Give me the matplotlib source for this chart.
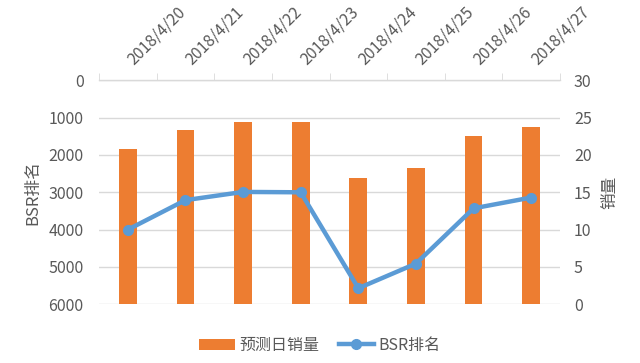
import matplotlib
matplotlib.use("Agg")
import matplotlib.pyplot as plt
import matplotlib.transforms as mtransforms
import numpy as np

plt.rcParams['font.family'] = ['Noto Sans CJK SC', 'DejaVu Sans']

dates = ["2018/4/20", "2018/4/21", "2018/4/22", "2018/4/23",
         "2018/4/24", "2018/4/25", "2018/4/26", "2018/4/27"]
sales = [20.8, 23.4, 24.4, 24.4, 16.9, 18.3, 22.6, 23.7]
bsr = [4000, 3210, 2990, 3000, 5570, 4910, 3430, 3140]

bar_color = "#ED7D31"
line_color = "#5B9BD5"
text_color = "#595959"
grid_color = "#D9D9D9"

fig = plt.figure(figsize=(6.4, 3.63), dpi=100)
ax = fig.add_axes([0.1547, 0.1617, 0.7203, 0.6171])
ax2 = ax.twinx()

x = np.arange(len(dates))

# bars on the right (sales) axis
ax2.bar(x, sales, width=0.31, color=bar_color, zorder=2, label="预测日销量")
ax2.set_ylim(0, 30)
ax2.set_yticks(np.arange(0, 31, 5))
ax2.grid(axis='y', color=grid_color, linewidth=1)
ax2.set_axisbelow(True)

# line on left (BSR) axis, inverted
ax.plot(x, bsr, color=line_color, linewidth=3.2, marker='o', markersize=7,
        zorder=3, label="BSR排名")
ax.set_ylim(6000, 0)
ax.set_yticks(np.arange(0, 6001, 1000))
ax.set_xlim(-0.5, len(dates) - 0.5)

ax.set_zorder(ax2.get_zorder() + 1)
ax.patch.set_visible(False)

# x axis on top
ax.xaxis.tick_top()
ax.set_xticks(x)
ax.set_xticklabels(dates, rotation=45, ha='left', va='baseline',
                   rotation_mode='anchor', fontsize=11.5, color=text_color)
ax.tick_params(axis='x', which='major', length=0, pad=11)
ax.set_xticks(np.arange(-0.5, len(dates), 1), minor=True)
ax.tick_params(axis='x', which='minor', length=5, color=grid_color,
               direction='out', top=True, bottom=False)
shift = mtransforms.ScaledTranslation(6 / 100, 0, fig.dpi_scale_trans)
for lbl in ax.get_xticklabels():
    lbl.set_transform(lbl.get_transform() + shift)

ax.tick_params(axis='y', length=0, labelsize=11.5, labelcolor=text_color, pad=11)
ax2.tick_params(axis='y', length=0, labelsize=11.5, labelcolor=text_color, pad=10)
ax2.tick_params(axis='x', length=0)

for s in ax.spines.values():
    s.set_visible(False)
for s in ax2.spines.values():
    s.set_visible(False)
ax.spines['top'].set_visible(True)
ax.spines['top'].set_color(grid_color)
ax.spines['top'].set_linewidth(1)

ax.set_ylabel("BSR排名", fontsize=12, color=text_color, labelpad=5)
ax2.set_ylabel("销量", fontsize=12, color=text_color, labelpad=7)

h1, l1 = ax2.get_legend_handles_labels()
h2, l2 = ax.get_legend_handles_labels()
leg = fig.legend(h1 + h2, l1 + l2, loc='lower center', ncol=2, frameon=False,
                 bbox_to_anchor=(0.5, -0.015), fontsize=11.5, handlelength=2.2,
                 columnspacing=1.2, handletextpad=0.3)
for t in leg.get_texts():
    t.set_color(text_color)

fig.savefig("out.png", dpi=100)
